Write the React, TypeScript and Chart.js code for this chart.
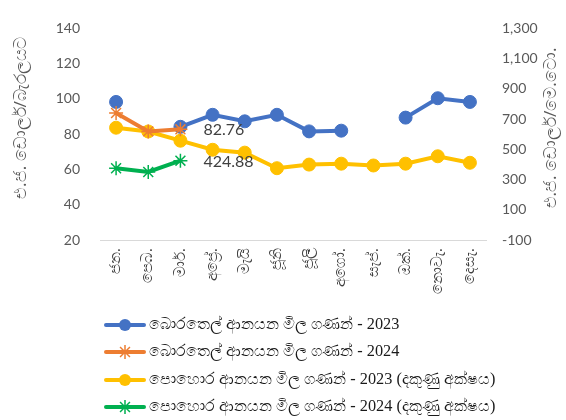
import React, { useEffect, useRef } from "react";
import { Chart, registerables } from "chart.js";

Chart.register(...registerables);

const months = ["ජන.", "පෙබ.", "මාර්.", "අප්‍රේ.", "මැයි", "ජූනි", "ජූලි", "අගෝ.", "සැප්.", "ඔක්.", "නොවැ.", "දෙසැ."];
const crude2023 = [98.3, null, 84.2, 91, 87.3, 91, 81.6, 82, null, 89.4, 100.4, 98.3];
const crude2024 = [92, 81.6, 82.76, null, null, null, null, null, null, null, null, null];
const fert2023 = [643, 618, 557, 497, 478, 375, 399, 405, 393, 405, 454, 411];
const fert2024 = [375, 350, 424.88, null, null, null, null, null, null, null, null, null];
const seriesNames = [
  "බොරතෙල් ආනයන මිල ගණන් - 2023",
  "බොරතෙල් ආනයන මිල ගණන් - 2024",
  "පොහොර ආනයන මිල ගණන් - 2023 (දකුණු අක්ෂය)",
  "පොහොර ආනයන මිල ගණන් - 2024 (දකුණු අක්ෂය)",
];
const leftTitle = "එ.ජ. ඩොලර්/බැරලයට";
const rightTitle = "එ.ජ. ඩොලර්/මෙ.ටො.";
const colors = ["#4472C4", "#ED7D31", "#FFC000", "#00B050"];
const styles = ["circle", "star", "circle", "star"];

const GRAY = "#595959";
const TICK_FONT = "Lato, 'Open Sans', 'Noto Sans', sans-serif";

const overlayPlugin = {
  id: "overlay",
  afterDatasetsDraw(chart: any) {
    const ctx = chart.ctx;
    ctx.save();
    ctx.font = "16px Lato, 'Open Sans', sans-serif";
    ctx.fillStyle = "#404040";
    ctx.textAlign = "left";
    ctx.textBaseline = "middle";
    const labels: [number, number, string][] = [
      [1, 2, "82.76"],
      [3, 2, "424.88"],
    ];
    for (const [ds, idx, txt] of labels) {
      const el = chart.getDatasetMeta(ds).data[idx];
      if (el) ctx.fillText(txt, el.x + 23, el.y + 1);
    }
    ctx.restore();
  },
  afterDraw(chart: any) {
    const ctx = chart.ctx;
    ctx.save();
    // axis titles
    ctx.fillStyle = GRAY;
    ctx.font = "17px 'Noto Sans', sans-serif";
    ctx.textAlign = "center";
    ctx.textBaseline = "middle";
    ctx.save();
    ctx.translate(21, 118);
    ctx.rotate(-Math.PI / 2);
    ctx.fillText(leftTitle, 0, 0);
    ctx.restore();
    ctx.save();
    ctx.translate(551, 128);
    ctx.rotate(-Math.PI / 2);
    ctx.fillText(rightTitle, 0, 0);
    ctx.restore();

    // legend
    const rowY = [325, 352, 380, 407];
    for (let i = 0; i < 4; i++) {
      const y = rowY[i];
      ctx.strokeStyle = colors[i];
      ctx.lineWidth = 4;
      ctx.lineCap = "round";
      ctx.beginPath();
      ctx.moveTo(106, y);
      ctx.lineTo(144, y);
      ctx.stroke();
      const cx = 125;
      if (styles[i] === "circle") {
        ctx.fillStyle = colors[i];
        ctx.beginPath();
        ctx.arc(cx, y, 6, 0, Math.PI * 2);
        ctx.fill();
      } else {
        ctx.lineWidth = 1.5;
        ctx.lineCap = "butt";
        const r = 7;
        ctx.beginPath();
        for (let k = 0; k < 4; k++) {
          const a = (k * Math.PI) / 4;
          ctx.moveTo(cx - r * Math.cos(a), y - r * Math.sin(a));
          ctx.lineTo(cx + r * Math.cos(a), y + r * Math.sin(a));
        }
        ctx.stroke();
      }
      ctx.fillStyle = "#1a1a1a";
      ctx.font = "16.3px 'Liberation Serif', serif";
      ctx.textAlign = "left";
      ctx.textBaseline = "middle";
      ctx.fillText(seriesNames[i], 149, y);
    }
    ctx.restore();
  },
};

export default function App() {
  const ref = useRef<HTMLCanvasElement | null>(null);
  useEffect(() => {
    if (!ref.current) return;
    const mk = (i: number, data: (number | null)[], axis: string, order: number) => ({
      label: seriesNames[i],
      data,
      yAxisID: axis,
      borderColor: colors[i],
      backgroundColor: colors[i],
      borderWidth: 4,
      pointStyle: styles[i],
      pointRadius: styles[i] === "circle" ? 6.5 : 7,
      pointBorderWidth: styles[i] === "circle" ? 1 : 1.5,
      pointBorderColor: colors[i],
      pointBackgroundColor: colors[i],
      spanGaps: false,
      tension: 0,
      order,
    });
    const chart = new Chart(ref.current, {
      type: "line",
      data: {
        labels: months,
        datasets: [
          mk(0, crude2023, "y", 4),
          mk(1, crude2024, "y", 2),
          mk(2, fert2023, "y1", 3),
          mk(3, fert2024, "y1", 1),
        ] as any,
      },
      options: {
        responsive: false,
        animation: false,
        layout: { padding: { top: 10, bottom: 120, left: 0, right: 0 } },
        plugins: { legend: { display: false }, tooltip: { enabled: false } },
        scales: {
          x: {
            offset: true,
            grid: { display: false, drawTicks: false },
            border: { display: true, color: "#d9d9d9", width: 1 },
            ticks: {
              color: "#404040",
              font: { family: "'Noto Sans', sans-serif", size: 14.5 },
              minRotation: 90,
              maxRotation: 90,
              padding: 8,
              autoSkip: false,
            },
            afterFit: (s: any) => {
              s.height = 60;
            },
          },
          y: {
            position: "left",
            min: 20,
            max: 140,
            grid: { display: false, drawTicks: false },
            border: { display: false },
            ticks: { stepSize: 20, color: GRAY, padding: 20, font: { family: TICK_FONT, size: 14 } },
            afterFit: (s: any) => {
              s.width = 100;
            },
          },
          y1: {
            position: "right",
            min: -100,
            max: 1300,
            grid: { display: false, drawTicks: false },
            border: { display: false },
            ticks: { stepSize: 200, color: GRAY, padding: 16, font: { family: TICK_FONT, size: 14 } },
            afterFit: (s: any) => {
              s.width = 80;
            },
          },
        },
      } as any,
      plugins: [overlayPlugin],
    });
    return () => chart.destroy();
  }, []);
  return (
    <div style={{ position: "fixed", left: 0, top: 0, width: 566, height: 420, background: "#fff" }}>
      <canvas ref={ref} width={566} height={420} style={{ width: 566, height: 420, display: "block" }} />
    </div>
  );
}
